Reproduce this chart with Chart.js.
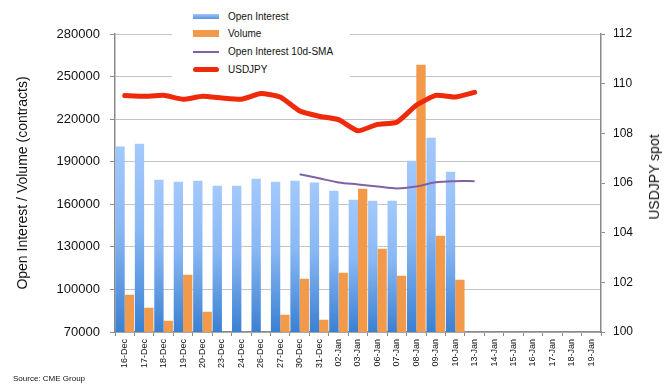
<!DOCTYPE html>
<html>
<head>
<meta charset="utf-8">
<script src="https://cdn.jsdelivr.net/npm/chart.js@4/dist/chart.umd.min.js"></script>
<style>
  html, body { margin: 0; padding: 0; background: #fff; }
  #wrap { position: relative; width: 671px; height: 390px; overflow: hidden; }
  #c { position: absolute; left: 0; top: 0; }
  #legend { position: absolute; left: 172px; top: 0; width: 178px; height: 84px; background: #fff; font-family: 'Liberation Sans', Arial, sans-serif; font-size: 10px; color: #111; }
  .li { position: absolute; left: 0; height: 14px; }
  .sw { position: absolute; left: 21px; width: 26px; }
  .lt { position: absolute; left: 56px; top: 0; white-space: nowrap; line-height: 14px; }
  #source { position: absolute; left: 13px; top: 374px; font-family: 'Liberation Sans', Arial, sans-serif; font-size: 8px; color: #111; white-space: nowrap; }
  #rtitle { position: absolute; left: 654px; top: 177px; width: 0; height: 0; }
  #rtitle span { position: absolute; left: 0; top: 0; transform: translate(-50%, -50%) rotate(-90deg); white-space: nowrap; font-family: 'Liberation Sans', Arial, sans-serif; font-size: 14px; color: #111; line-height: 16px; }
</style>
</head>
<body>
<div id="wrap">
  <canvas id="c" width="671" height="390"></canvas>
  <div id="legend"></div>
  <div id="rtitle"><span id="rtitleText"></span></div>
  <div id="source">Source: CME Group</div>
</div>
<script>
const labels = ['16-Dec','17-Dec','18-Dec','19-Dec','20-Dec','23-Dec','24-Dec','26-Dec','27-Dec','30-Dec','31-Dec','02-Jan','03-Jan','06-Jan','07-Jan','08-Jan','09-Jan','10-Jan','13-Jan','14-Jan','15-Jan','16-Jan','17-Jan','18-Jan','19-Jan'];
const openInterest = [200800, 202700, 177300, 175900, 176600, 173100, 173100, 178000, 175900, 176600, 175400, 169600, 163200, 162500, 162500, 190700, 206900, 183000, null, null, null, null, null, null, null];
const volume = [96300, 87100, 78000, 110400, 84300, null, null, null, 82200, 107600, 78700, 111800, 171000, 128700, 109700, 258400, 137900, 106900, null, null, null, null, null, null, null];
const oiSma10 = [null, null, null, null, null, null, null, null, null, 181100, 178300, 175400, 174000, 172600, 171200, 172600, 175500, 176300, 176300, null, null, null, null, null, null];
const usdjpy = [109.52, 109.49, 109.53, 109.37, 109.49, 109.42, 109.37, 109.60, 109.46, 108.90, 108.69, 108.55, 108.10, 108.36, 108.45, 109.13, 109.53, 109.46, 109.65, null, null, null, null, null, null];
const leftTicks = [70000, 100000, 130000, 160000, 190000, 220000, 250000, 280000];
const rightTicks = [100, 102, 104, 106, 108, 110, 112];
const leftTitle = 'Open Interest / Volume (contracts)';
const rightTitle = 'USDJPY spot';

const FONT = "'Liberation Sans', Arial, sans-serif";
Chart.defaults.font.family = FONT;
Chart.defaults.color = '#111';

function oiGradient(ctx) {
  const chart = ctx.chart;
  if (!chart.chartArea || ctx.type !== 'data' || ctx.raw == null) return '#7fb0f0';
  const y = chart.scales.y;
  const top = y.getPixelForValue(ctx.raw);
  const bottom = chart.chartArea.bottom;
  const g = chart.ctx.createLinearGradient(0, top, 0, bottom);
  g.addColorStop(0, '#a3c9fc');
  g.addColorStop(0.45, '#8ab8f4');
  g.addColorStop(1, '#3a80d2');
  return g;
}

const chart = new Chart(document.getElementById('c'), {
  type: 'bar',
  data: {
    labels: labels,
    datasets: [
      { label: 'Open Interest', data: openInterest, yAxisID: 'y', backgroundColor: oiGradient, borderWidth: 0, order: 3, categoryPercentage: 0.96, barPercentage: 1.0 },
      { label: 'Volume', data: volume, yAxisID: 'y', backgroundColor: '#f2994a', borderWidth: 0, order: 3, categoryPercentage: 0.96, barPercentage: 1.0 },
      { type: 'line', label: 'Open Interest 10d-SMA', data: oiSma10, yAxisID: 'y', borderColor: '#7f62a4', borderWidth: 2, pointRadius: 0, tension: 0.35, order: 1, spanGaps: false },
      { type: 'line', label: 'USDJPY', data: usdjpy, yAxisID: 'y1', borderColor: '#ee2a0a', borderWidth: 5, pointRadius: 0, tension: 0.15, borderCapStyle: 'round', borderJoinStyle: 'round', order: 0 }
    ]
  },
  options: {
    responsive: false,
    animation: false,
    layout: { padding: { top: 34, left: 0, right: 0, bottom: 0 } },
    plugins: { legend: { display: false }, tooltip: { enabled: false } },
    scales: {
      x: {
        offset: true,
        grid: { display: true, drawOnChartArea: false, offset: true, tickLength: 4, tickColor: '#8a8a8a', tickWidth: 1 },
        border: { display: true, color: '#8a8a8a', width: 1.5 },
        ticks: { autoSkip: false, minRotation: 90, maxRotation: 90, padding: 3, font: { size: 9 }, color: '#111' },
        afterFit: s => { s.height = 58; }
      },
      y: {
        position: 'left',
        min: 70000, max: 280000,
        afterBuildTicks: s => { s.ticks = leftTicks.map(v => ({ value: v })); },
        grid: { color: '#c4c4c4', borderDash: [3, 3], tickLength: 5, tickColor: '#8a8a8a', tickBorderDash: [], lineWidth: 1 },
        border: { display: true, color: '#8a8a8a', width: 1.5 },
        ticks: { padding: 10, font: { size: 13 }, color: '#111', callback: v => String(v) },
        title: { display: true, text: leftTitle, font: { size: 14 }, color: '#111', padding: { top: 15, bottom: 0 } },
        afterFit: s => { s.width = 115; }
      },
      y1: {
        position: 'right',
        min: 100, max: 112,
        afterBuildTicks: s => { s.ticks = rightTicks.map(v => ({ value: v })); },
        grid: { drawOnChartArea: false, tickLength: 4, tickColor: '#8a8a8a' },
        border: { display: true, color: '#8a8a8a', width: 1.5 },
        ticks: { padding: 8, font: { size: 12 }, color: '#111', callback: v => String(v) },
        title: { display: false },
        afterFit: s => { s.width = 70; }
      }
    }
  }
});

document.getElementById('rtitleText').textContent = rightTitle;

// HTML legend built from the chart datasets
const legendEl = document.getElementById('legend');
const swatchStyles = [
  'top:4px;height:5px;background:linear-gradient(#9fc6fb,#5a94dc);',
  'top:3px;height:7px;background:#f2994a;',
  'top:6px;height:2px;background:#7f62a4;',
  'top:4px;height:5px;background:#ee2a0a;border-radius:3px;'
];
const tops = [10, 27, 45, 63];
chart.data.datasets.forEach((ds, i) => {
  const item = document.createElement('div');
  item.className = 'li';
  item.style.top = tops[i] + 'px';
  item.style.width = '178px';
  const sw = document.createElement('div');
  sw.className = 'sw';
  sw.style.cssText += swatchStyles[i];
  const t = document.createElement('div');
  t.className = 'lt';
  t.textContent = ds.label;
  item.appendChild(sw);
  item.appendChild(t);
  legendEl.appendChild(item);
});
</script>
</body>
</html>
